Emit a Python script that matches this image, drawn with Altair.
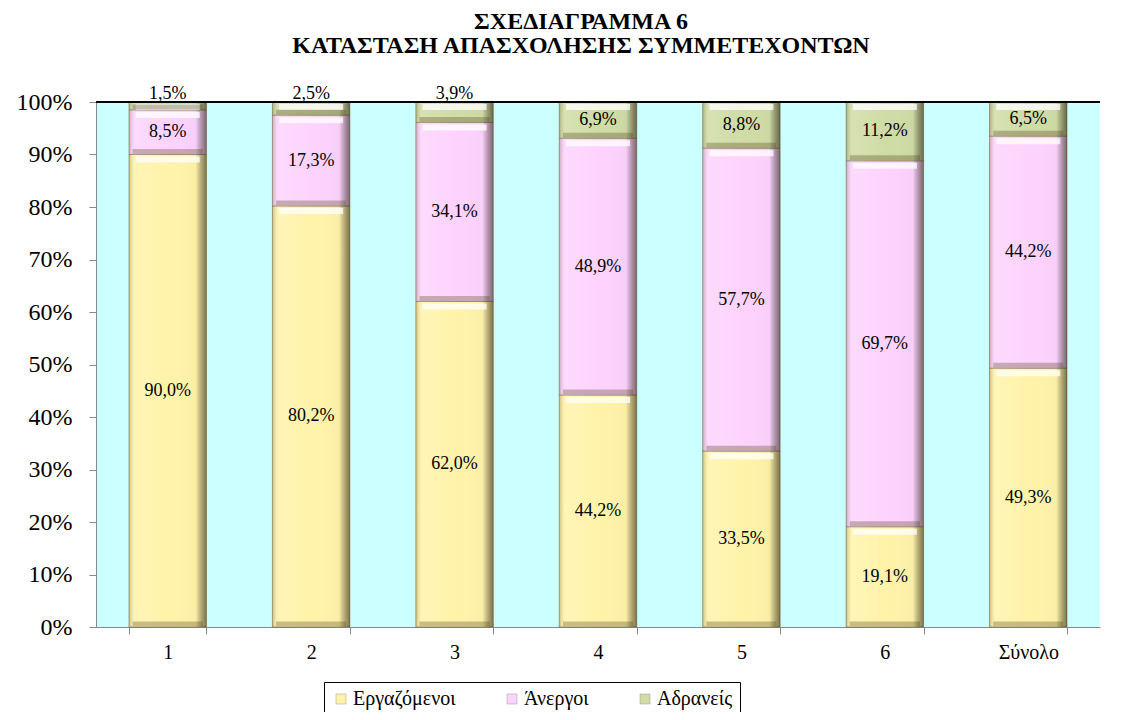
import altair as alt
import pandas as pd

cats = ["1", "2", "3", "4", "5", "6", "Σύνολο"]
series = ["Εργαζόμενοι", "Άνεργοι", "Αδρανείς"]
employed = [90.0, 80.2, 62.0, 44.2, 33.5, 19.1, 49.3]
unemployed = [8.5, 17.3, 34.1, 48.9, 57.7, 69.7, 44.2]
inactive = [1.5, 2.5, 3.9, 6.9, 8.8, 11.2, 6.5]
colors = ["#FFF3AA", "#FDD3FD", "#D0DCA6"]

rows = []
for i, c in enumerate(cats):
    for o, (s, vals) in enumerate(zip(series, [employed, unemployed, inactive])):
        v = vals[i]
        rows.append({"cat": c, "series": s, "ord": o, "value": v,
                     "label": f"{v:.1f}".replace(".", ",") + "%"})
df = pd.DataFrame(rows)

FONT = "'Liberation Serif', 'DejaVu Serif', 'Times New Roman', serif"

ax_x = alt.Axis(title=None, labelFont=FONT, labelFontSize=20, labelColor="black",
                domainColor="#888888", tickColor="#888888", tickSize=7,
                tickBand="extent", labelPadding=8, labelAngle=0)
ax_y = alt.Axis(title=None, values=list(range(0, 101, 10)), labelExpr="datum.value + '%'",
                labelFont=FONT, labelFontSize=24, labelColor="black", grid=False,
                domainColor="#888888", tickColor="#888888", tickSize=7, labelPadding=17)

xenc = alt.X("cat:N", sort=cats, axis=ax_x,
             scale=alt.Scale(paddingInner=0.46, paddingOuter=0.23))
yscale = alt.Scale(domain=[0, 100], nice=False)

base = alt.Chart(df)

bars = base.mark_bar(stroke="#7a6e4a", strokeWidth=0.6).encode(
    x=xenc,
    y=alt.Y("value:Q", stack="zero", scale=yscale, axis=ax_y),
    color=alt.Color("series:N", scale=alt.Scale(domain=series, range=colors),
                    legend=alt.Legend(title=None, orient="none", direction="horizontal",
                                      legendX=228, legendY=580, strokeColor="black",
                                      padding=7, symbolType="square", symbolSize=100,
                                      symbolStrokeColor="#999", symbolStrokeWidth=0.5,
                                      labelFont=FONT, labelFontSize=20, labelColor="black",
                                      columnPadding=46, labelOffset=2)),
    order=alt.Order("ord:Q"),
)

shade = base.mark_bar(color=alt.Gradient(
    gradient="linear", x1=0, x2=1, y1=0, y2=0,
    stops=[alt.GradientStop(offset=0, color="rgba(90,70,30,0.30)"),
           alt.GradientStop(offset=0.07, color="rgba(255,255,255,0.15)"),
           alt.GradientStop(offset=0.5, color="rgba(255,255,255,0)"),
           alt.GradientStop(offset=0.86, color="rgba(0,0,0,0.02)"),
           alt.GradientStop(offset=1, color="rgba(40,30,10,0.6)")])).encode(
    x=xenc,
    y=alt.Y("value:Q", stack="zero", scale=yscale, axis=ax_y),
    detail="series:N",
    order=alt.Order("ord:Q"),
)

stacked = base.transform_stack(
    stack="value", groupby=["cat"], sort=[alt.SortField("ord")], as_=["y0", "y1"]
).transform_calculate(
    ly="datum.value < 5 ? 101.6 : (datum.y0 + datum.y1) / 2",
)

hi = stacked.mark_tick(orient="horizontal", size=64, thickness=6, color="white",
                       opacity=0.75, yOffset=5).encode(
    x=xenc, y=alt.Y("y1:Q", scale=yscale, axis=ax_y))
lo = stacked.mark_tick(orient="horizontal", size=70, thickness=5, color="#4a3a10",
                       opacity=0.3, yOffset=-3).encode(
    x=xenc, y=alt.Y("y0:Q", scale=yscale, axis=ax_y))

labels = stacked.mark_text(font=FONT, fontSize=18, color="black").encode(
    x=xenc, y=alt.Y("ly:Q", scale=yscale, axis=ax_y), text="label:N")

top = alt.Chart(df).mark_rule(color="black", strokeWidth=2).encode(
    y=alt.Y(datum=100, scale=yscale, axis=ax_y))

chart = alt.layer(bars, shade, hi, lo, top, labels).properties(
    width=1004, height=525,
    autosize=alt.AutoSizeParams(type="none"),
    padding={"left": 88, "top": 94, "right": 20, "bottom": 85},
    title=alt.TitleParams(["ΣΧΕΔΙΑΓΡΑΜΜΑ 6", "ΚΑΤΑΣΤΑΣΗ ΑΠΑΣΧΟΛΗΣΗΣ ΣΥΜΜΕΤΕΧΟΝΤΩΝ"],
                          font=FONT, fontSize=24, fontWeight="bold", color="black",
                          anchor="middle", offset=27, lineHeight=24, dx=-17),
).configure_view(fill="#CCFFFF", stroke=None)

chart.save("out.html", embed_options={"renderer": "svg", "actions": False})
